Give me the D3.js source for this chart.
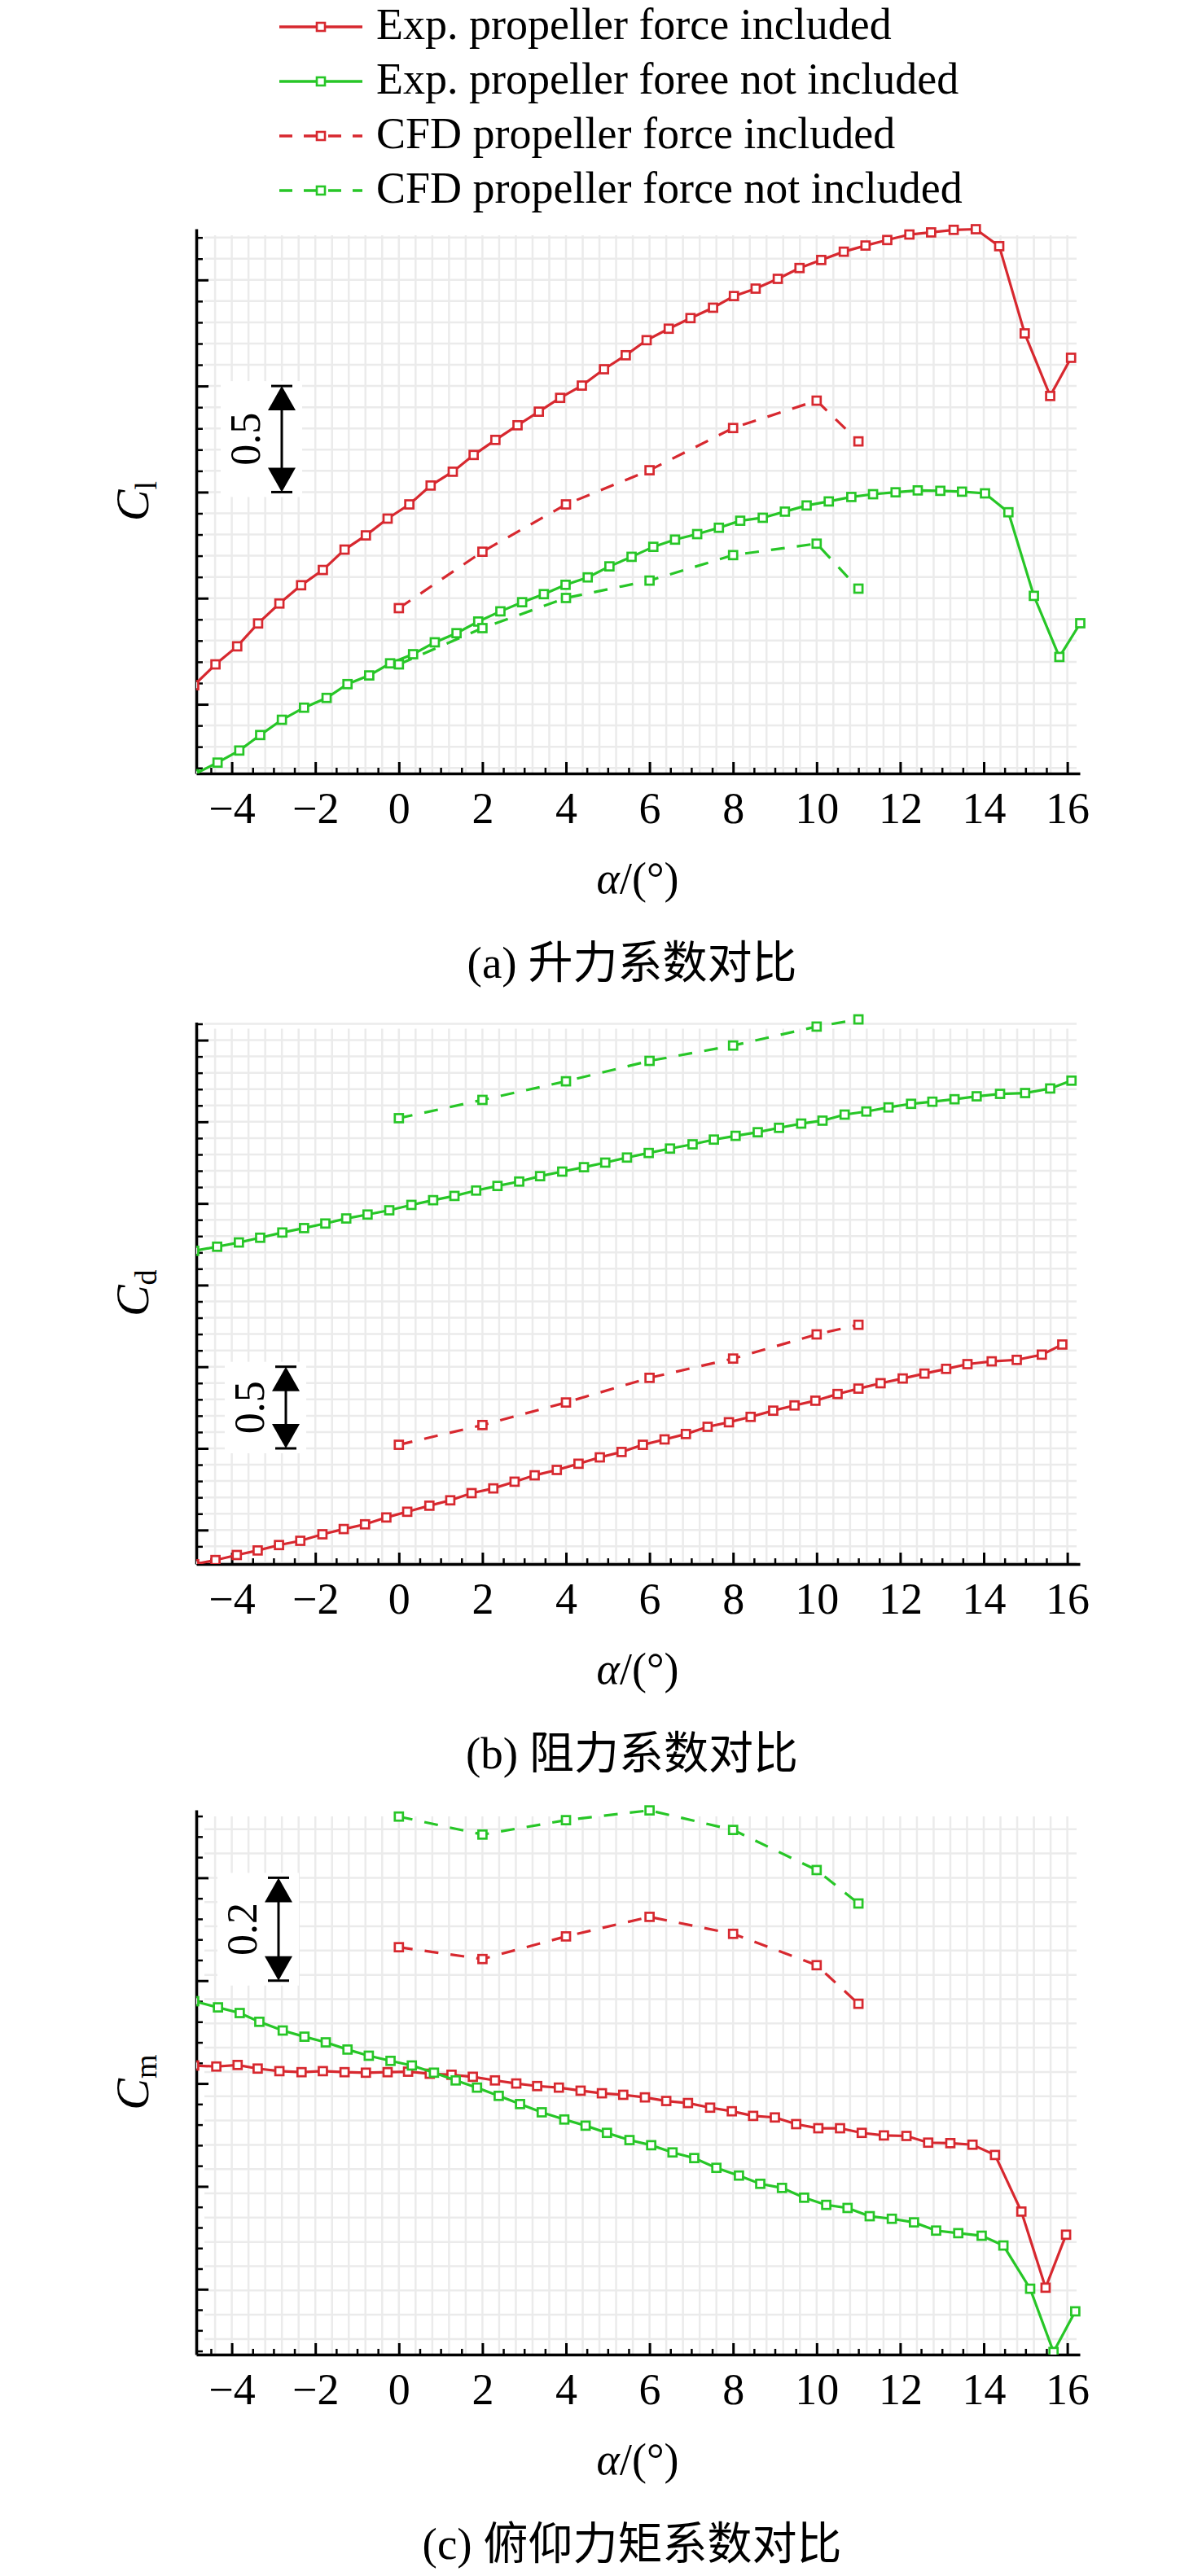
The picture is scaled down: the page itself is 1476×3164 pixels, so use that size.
<!DOCTYPE html>
<html>
<head>
<meta charset="utf-8">
<script src="https://cdn.jsdelivr.net/npm/d3@7"></script>
<style>
  body { margin: 0; background: #fff; }
  svg text { font-family: "Liberation Serif", "Times New Roman", "Noto Sans CJK SC", serif; fill: #000; }
</style>
</head>
<body>
<svg id="chart" width="1476" height="3164"></svg>
<script>
// ---- data ----
// CFD runs share one set of angles
var cfdAlpha = [0, 2, 4, 6, 8, 10, 11];

// (a) lift coefficient
var aRedExpAlpha = [-4.9, -4.39, -3.87, -3.37, -2.86, -2.34, -1.82, -1.30, -0.79, -0.27, 0.25, 0.76, 1.29, 1.79, 2.31, 2.84, 3.35, 3.86, 4.38, 4.91, 5.43, 5.93, 6.46, 6.98, 7.52, 8.02, 8.54, 9.07, 9.59, 10.11, 10.65, 11.17, 11.69, 12.22, 12.74, 13.28, 13.81, 14.37, 14.98, 15.59, 16.09];
var aRedExpCl = [0.09, 0.188, 0.273, 0.381, 0.475, 0.561, 0.633, 0.729, 0.796, 0.875, 0.942, 1.031, 1.096, 1.175, 1.246, 1.315, 1.379, 1.444, 1.502, 1.579, 1.645, 1.716, 1.770, 1.820, 1.869, 1.924, 1.959, 2.005, 2.056, 2.094, 2.133, 2.162, 2.188, 2.214, 2.224, 2.236, 2.239, 2.159, 1.748, 1.453, 1.633];
var aGreenExpAlpha = [-4.9, -4.34, -3.82, -3.32, -2.80, -2.27, -1.73, -1.23, -0.71, -0.21, 0.34, 0.86, 1.38, 1.90, 2.43, 2.95, 3.47, 3.99, 4.52, 5.04, 5.57, 6.09, 6.61, 7.14, 7.66, 8.17, 8.71, 9.24, 9.76, 10.29, 10.83, 11.35, 11.89, 12.42, 12.96, 13.48, 14.03, 14.59, 15.20, 15.81, 16.31];
var aGreenExpCl = [-0.33, -0.275, -0.218, -0.145, -0.073, -0.016, 0.030, 0.095, 0.136, 0.193, 0.236, 0.292, 0.335, 0.390, 0.438, 0.481, 0.519, 0.563, 0.598, 0.650, 0.695, 0.742, 0.776, 0.802, 0.832, 0.865, 0.879, 0.908, 0.937, 0.956, 0.977, 0.990, 0.999, 1.008, 1.006, 1.002, 0.994, 0.905, 0.511, 0.223, 0.382];
var aRedCfdCl = [0.453, 0.719, 0.942, 1.103, 1.302, 1.431, 1.239];
var aGreenCfdCl = [0.188, 0.359, 0.501, 0.583, 0.703, 0.757, 0.545];

// (b) drag coefficient
var bRedExpAlpha = [-4.9, -4.39, -3.88, -3.38, -2.87, -2.36, -1.83, -1.32, -0.81, -0.30, 0.20, 0.73, 1.23, 1.74, 2.26, 2.77, 3.25, 3.78, 4.30, 4.81, 5.33, 5.84, 6.36, 6.87, 7.39, 7.90, 8.42, 8.96, 9.47, 9.97, 10.50, 11.00, 11.53, 12.06, 12.58, 13.10, 13.61, 14.19, 14.79, 15.39, 15.88];
var bRedExpCd = [0.29, 0.316, 0.347, 0.375, 0.408, 0.434, 0.474, 0.506, 0.535, 0.577, 0.612, 0.649, 0.682, 0.726, 0.755, 0.796, 0.835, 0.868, 0.906, 0.945, 0.978, 1.022, 1.055, 1.088, 1.132, 1.160, 1.193, 1.231, 1.263, 1.292, 1.333, 1.366, 1.399, 1.428, 1.458, 1.487, 1.516, 1.533, 1.542, 1.574, 1.636];
var bGreenExpAlpha = [-4.9, -4.35, -3.83, -3.32, -2.79, -2.27, -1.76, -1.26, -0.75, -0.23, 0.30, 0.82, 1.33, 1.85, 2.36, 2.88, 3.38, 3.91, 4.43, 4.94, 5.46, 5.98, 6.49, 7.03, 7.54, 8.06, 8.59, 9.10, 9.63, 10.14, 10.67, 11.19, 11.72, 12.26, 12.77, 13.30, 13.83, 14.39, 14.99, 15.59, 16.10];
var bGreenExpCd = [2.21, 2.235, 2.261, 2.290, 2.322, 2.349, 2.377, 2.408, 2.432, 2.458, 2.491, 2.520, 2.546, 2.579, 2.607, 2.634, 2.667, 2.695, 2.722, 2.750, 2.781, 2.809, 2.836, 2.862, 2.891, 2.914, 2.936, 2.963, 2.989, 3.007, 3.044, 3.063, 3.088, 3.110, 3.123, 3.138, 3.156, 3.171, 3.176, 3.204, 3.252];
var bRedCfdCd = [1.022, 1.143, 1.281, 1.432, 1.550, 1.698, 1.757];
var bGreenCfdCd = [3.022, 3.134, 3.248, 3.373, 3.467, 3.583, 3.627];

// (c) pitching moment coefficient
var cRedExpAlpha = [-4.9, -4.37, -3.86, -3.38, -2.86, -2.33, -1.82, -1.30, -0.79, -0.27, 0.22, 0.74, 1.26, 1.77, 2.30, 2.81, 3.31, 3.83, 4.35, 4.86, 5.37, 5.89, 6.40, 6.92, 7.45, 7.97, 8.48, 9.00, 9.51, 10.04, 10.56, 11.08, 11.61, 12.15, 12.67, 13.20, 13.73, 14.27, 14.90, 15.48, 15.97];
var cRedExpCm = [0.035, 0.033, 0.036, 0.029, 0.024, 0.022, 0.024, 0.022, 0.021, 0.022, 0.023, 0.019, 0.017, 0.013, 0.006, 0.000, -0.005, -0.008, -0.014, -0.019, -0.022, -0.027, -0.034, -0.038, -0.047, -0.054, -0.063, -0.066, -0.079, -0.087, -0.087, -0.096, -0.101, -0.102, -0.115, -0.116, -0.119, -0.139, -0.249, -0.397, -0.294];
var cGreenExpAlpha = [-4.9, -4.33, -3.81, -3.34, -2.78, -2.26, -1.75, -1.23, -0.72, -0.20, 0.31, 0.84, 1.36, 1.87, 2.39, 2.90, 3.42, 3.96, 4.47, 4.98, 5.52, 6.04, 6.55, 7.07, 7.60, 8.14, 8.65, 9.17, 9.70, 10.23, 10.74, 11.27, 11.80, 12.33, 12.86, 13.39, 13.95, 14.47, 15.11, 15.67, 16.19];
var cGreenExpCm = [0.16, 0.148, 0.137, 0.120, 0.103, 0.091, 0.080, 0.066, 0.054, 0.044, 0.035, 0.021, 0.006, -0.008, -0.024, -0.040, -0.056, -0.070, -0.082, -0.096, -0.110, -0.120, -0.134, -0.145, -0.164, -0.179, -0.195, -0.203, -0.222, -0.236, -0.242, -0.258, -0.263, -0.270, -0.286, -0.291, -0.296, -0.315, -0.399, -0.522, -0.443];
var cRedCfdCm = [0.265, 0.242, 0.286, 0.324, 0.291, 0.230, 0.155];
var cGreenCfdCm = [0.519, 0.484, 0.512, 0.531, 0.493, 0.415, 0.350];

var legendLabels = [
  "Exp. propeller force included",
  "Exp. propeller foree not included",
  "CFD propeller force included",
  "CFD propeller force not included"
];

// ---- styling ----
var RED = "#d7282f";
var GREEN = "#27c627";
var DASH = "17,15";

var svg = d3.select("#chart");
svg.append("rect").attr("width", 1476).attr("height", 3164).attr("fill", "#fff");

// same angle axis for all three panels
var x = d3.scaleLinear().domain([-4.85, 16.3]).range([241, 1326]);

// legend
var legendStyles = [
  {color: RED, dash: null},
  {color: GREEN, dash: null},
  {color: RED, dash: "16,14"},
  {color: GREEN, dash: "16,14"}
];
legendLabels.forEach(function(label, i) {
  var ly = 33 + i * 67;
  var g = svg.append("g");
  g.append("line")
    .attr("x1", 343).attr("x2", 445).attr("y1", ly).attr("y2", ly)
    .attr("stroke", legendStyles[i].color).attr("stroke-width", 3.5)
    .attr("stroke-dasharray", legendStyles[i].dash);
  g.append("rect")
    .attr("x", 389).attr("y", ly - 5).attr("width", 10).attr("height", 10)
    .attr("fill", "#fff").attr("stroke", legendStyles[i].color).attr("stroke-width", 2.6);
  g.append("text")
    .attr("x", 462).attr("y", ly + 15)
    .attr("font-size", 54)
    .text(label);
});

function ticksBetween(lo, hi, step) {
  // integer multiples of step inside [lo, hi]
  var k0 = Math.ceil(lo / step - 1e-9), k1 = Math.floor(hi / step + 1e-9);
  return d3.range(k0, k1 + 1).map(function(k) { return +(k * step).toFixed(6); });
}

function drawPanel(p) {
  var y = d3.scaleLinear().domain(p.yDomain).range([p.bottom, p.top]);
  var left = x.range()[0], right = x.range()[1];
  var g = svg.append("g");

  // light grid
  var vGrid = ticksBetween(x.domain()[0], x.domain()[1], 0.4);
  var hStart = p.gridAnchor - Math.floor((p.gridAnchor - p.yDomain[0]) / p.gridStep) * p.gridStep;
  var hGrid = d3.range(hStart, p.yDomain[1], p.gridStep);
  g.append("g").selectAll("line").data(vGrid).join("line")
    .attr("x1", function(d) { return x(d); }).attr("x2", function(d) { return x(d); })
    .attr("y1", p.top + 8).attr("y2", p.bottom)
    .attr("stroke", "#ebebeb").attr("stroke-width", 2.5);
  g.append("g").selectAll("line").data(hGrid).join("line")
    .attr("x1", left + 10).attr("x2", right - 4)
    .attr("y1", function(d) { return y(d); }).attr("y2", function(d) { return y(d); })
    .attr("stroke", "#ebebeb").attr("stroke-width", 2.5);

  // scale bar (white patch behind it like the original)
  var sb = p.scaleBar;
  var sy1 = y(sb.from), sy2 = y(sb.from - sb.len);
  g.append("rect").attr("x", sb.x - 75).attr("y", sy1 - 6).attr("width", 100).attr("height", sy2 - sy1 + 12)
    .attr("fill", "#fff");
  g.append("line").attr("x1", sb.x).attr("x2", sb.x).attr("y1", sy1 + 20).attr("y2", sy2 - 20)
    .attr("stroke", "#000").attr("stroke-width", 3);
  [sy1, sy2].forEach(function(yy, i) {
    var dir = i === 0 ? 1 : -1;
    g.append("line").attr("x1", sb.x - 13).attr("x2", sb.x + 13).attr("y1", yy).attr("y2", yy)
      .attr("stroke", "#000").attr("stroke-width", 3);
    g.append("path")
      .attr("d", "M" + sb.x + "," + yy + "L" + (sb.x - 17) + "," + (yy + dir * 30) + "L" + (sb.x + 17) + "," + (yy + dir * 30) + "Z")
      .attr("fill", "#000");
  });
  g.append("text")
    .attr("transform", "translate(" + (sb.x - 27) + "," + ((sy1 + sy2) / 2) + ") rotate(-90)")
    .attr("text-anchor", "middle").attr("font-size", 52)
    .text(sb.label);

  // axes: ticks point inward
  var xMinor = ticksBetween(x.domain()[0], x.domain()[1], 0.5).filter(function(d) { return Math.abs(d % 2) > 1e-6; });
  g.append("g").attr("transform", "translate(0," + p.bottom + ")")
    .call(d3.axisBottom(x).tickValues(xMinor).tickSize(-7).tickSizeOuter(0).tickFormat(""))
    .call(function(a) { a.select(".domain").remove(); a.selectAll("line").attr("stroke-width", 2.5); });
  g.append("g").attr("transform", "translate(0," + p.bottom + ")")
    .call(d3.axisBottom(x).tickValues(d3.range(-4, 17, 2)).tickSize(-14).tickSizeOuter(0).tickPadding(23))
    .call(function(a) {
      a.select(".domain").attr("stroke-width", 3.5);
      a.selectAll("line").attr("stroke-width", 3);
      a.selectAll("text").attr("font-size", 54).attr("font-family", "Liberation Serif, serif");
    });

  var yMinor = ticksBetween(p.yDomain[0], p.yDomain[1], p.minor).filter(function(d) {
    return Math.abs(Math.round(d / p.major) * p.major - d) > 1e-6;
  });
  g.append("g").attr("transform", "translate(" + left + ",0)")
    .call(d3.axisLeft(y).tickValues(yMinor).tickSize(-8).tickSizeOuter(0).tickFormat(""))
    .call(function(a) { a.select(".domain").remove(); a.selectAll("line").attr("stroke-width", 2.5); });
  g.append("g").attr("transform", "translate(" + left + ",0)")
    .call(d3.axisLeft(y).tickValues(ticksBetween(p.yDomain[0], p.yDomain[1], p.major)).tickSize(-15).tickSizeOuter(0).tickFormat(""))
    .call(function(a) {
      a.select(".domain").attr("stroke-width", 3.5);
      a.selectAll("line").attr("stroke-width", 3);
    });

  // axis titles and caption
  var xt = g.append("text").attr("x", 783).attr("y", p.bottom + 147)
    .attr("text-anchor", "middle").attr("font-size", 54);
  xt.append("tspan").attr("font-style", "italic").text("α");
  xt.append("tspan").text("/(°)");

  var yt = g.append("text")
    .attr("transform", "translate(182," + ((p.top + p.bottom) / 2) + ") rotate(-90)")
    .attr("text-anchor", "middle").attr("font-size", 58);
  yt.append("tspan").attr("font-style", "italic").text("C");
  yt.append("tspan").attr("font-size", 38).attr("dy", 10).text(p.ySub);

  g.append("text").attr("x", 776).attr("y", p.bottom + 251)
    .attr("text-anchor", "middle").attr("font-size", 55)
    .text(p.caption);

  // series, clipped at the left/bottom axis
  var clipId = "clip" + p.ySub;
  svg.append("clipPath").attr("id", clipId).append("rect")
    .attr("x", left).attr("y", p.top - 15).attr("width", right - left + 15).attr("height", p.bottom - p.top + 15);
  var plot = g.append("g").attr("clip-path", "url(#" + clipId + ")");
  var line = d3.line().x(function(d) { return x(d[0]); }).y(function(d) { return y(d[1]); });

  p.series.forEach(function(s) {
    var pts = d3.zip(s.alpha, s.values);
    plot.append("path").datum(pts)
      .attr("d", line).attr("fill", "none")
      .attr("stroke", s.color).attr("stroke-width", 3.2)
      .attr("stroke-dasharray", s.dashed ? DASH : null);
    plot.append("g").selectAll("rect").data(pts).join("rect")
      .attr("x", function(d) { return x(d[0]) - 5; })
      .attr("y", function(d) { return y(d[1]) - 5; })
      .attr("width", 10).attr("height", 10)
      .attr("fill", "#fff").attr("stroke", s.color).attr("stroke-width", 2.7);
  });
}

drawPanel({
  top: 281, bottom: 950, yDomain: [-0.326, 2.241],
  major: 0.5, minor: 0.1, gridStep: 0.1, gridAnchor: 0,
  ySub: "l", caption: "(a) 升力系数对比",
  scaleBar: {x: 346, from: 1.5, len: 0.5, label: "0.5"},
  series: [
    {alpha: aRedExpAlpha, values: aRedExpCl, color: RED},
    {alpha: aGreenExpAlpha, values: aGreenExpCl, color: GREEN},
    {alpha: cfdAlpha, values: aRedCfdCl, color: RED, dashed: true},
    {alpha: cfdAlpha, values: aGreenCfdCl, color: GREEN, dashed: true}
  ]
});

drawPanel({
  top: 1255.5, bottom: 1921, yDomain: [0.292, 3.610],
  major: 0.5, minor: 0.1, gridStep: 0.1, gridAnchor: 0,
  ySub: "d", caption: "(b) 阻力系数对比",
  scaleBar: {x: 351, from: 1.5, len: 0.5, label: "0.5"},
  series: [
    {alpha: bRedExpAlpha, values: bRedExpCd, color: RED},
    {alpha: bGreenExpAlpha, values: bGreenExpCd, color: GREEN},
    {alpha: cfdAlpha, values: bRedCfdCd, color: RED, dashed: true},
    {alpha: cfdAlpha, values: bGreenCfdCd, color: GREEN, dashed: true}
  ]
});

drawPanel({
  top: 2223, bottom: 2892, yDomain: [-0.527, 0.532],
  major: 0.2, minor: 0.04, gridStep: 0.0472, gridAnchor: 0.4,
  ySub: "m", caption: "(c) 俯仰力矩系数对比",
  scaleBar: {x: 342, from: 0.4, len: 0.2, label: "0.2"},
  series: [
    {alpha: cRedExpAlpha, values: cRedExpCm, color: RED},
    {alpha: cGreenExpAlpha, values: cGreenExpCm, color: GREEN},
    {alpha: cfdAlpha, values: cRedCfdCm, color: RED, dashed: true},
    {alpha: cfdAlpha, values: cGreenCfdCm, color: GREEN, dashed: true}
  ]
});
</script>
</body>
</html>
